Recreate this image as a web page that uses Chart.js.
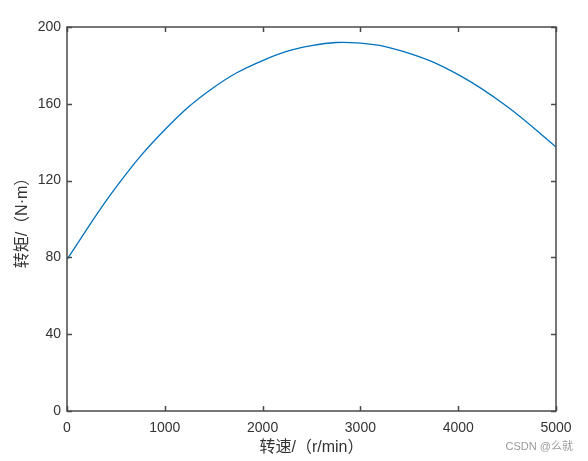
<!DOCTYPE html>
<html>
<head>
<meta charset="utf-8">
<script src="https://cdn.jsdelivr.net/npm/chart.js@4"></script>
<style>
  body { margin: 0; background: #fff; }
  #wrap { position: relative; width: 588px; height: 461px; }
  #mark { position: absolute; right: 15px; top: 437px; font: 11px "Liberation Sans", "Noto Sans CJK SC", sans-serif; color: #9a9a9a; }
</style>
</head>
<body>
<div id="wrap">
  <canvas id="torqueChart"></canvas>
  <div id="mark">CSDN @么就</div>
</div>
<script>
// speed (r/min) and torque (N·m)
const speed = [0, 500, 1000, 1500, 2000, 2500, 3000, 3500, 4000, 4500, 5000];
const torque = [79, 116.5, 146.5, 168.5, 182.5, 190.3, 191.6, 186.3, 175.2, 158.6, 137.5];
const xTicks = [0, 1000, 2000, 3000, 4000, 5000];
const yTicks = [0, 40, 80, 120, 160, 200];

const axisColor = '#4a4a4a';
const tickFont = { family: '"Liberation Sans", Arial, sans-serif', size: 14 };
const titleFont = { family: '"Liberation Sans", "Noto Sans CJK SC", sans-serif', size: 16 };

// MATLAB-like box with inward ticks on all four sides
const boxPlugin = {
    id: 'box',
    afterDraw(chart) {
        const { ctx, chartArea: a, scales: { x, y } } = chart;
        ctx.save();
        ctx.strokeStyle = axisColor;
        ctx.lineWidth = 1.5;
        ctx.strokeRect(a.left, a.top, a.right - a.left, a.bottom - a.top);
        const len = 5;
        ctx.beginPath();
        xTicks.forEach(v => {
            const px = Math.round(x.getPixelForValue(v)) + 0.5;
            ctx.moveTo(px, a.bottom); ctx.lineTo(px, a.bottom - len);
            ctx.moveTo(px, a.top); ctx.lineTo(px, a.top + len);
        });
        yTicks.forEach(v => {
            const py = Math.round(y.getPixelForValue(v)) + 0.5;
            ctx.moveTo(a.left, py); ctx.lineTo(a.left + len, py);
            ctx.moveTo(a.right, py); ctx.lineTo(a.right - len, py);
        });
        ctx.stroke();
        ctx.restore();
    }
};

const ctx = document.getElementById('torqueChart').getContext('2d');
new Chart(ctx, {
    type: 'line',
    data: {
        datasets: [{
            data: speed.map((s, i) => ({ x: s, y: torque[i] })),
            borderColor: '#0072BD',
            borderWidth: 1.3,
            pointRadius: 0,
            tension: 0.4,
            fill: false
        }]
    },
    options: {
        responsive: true,
        maintainAspectRatio: false,
        animation: false,
        layout: { padding: { top: 27, right: 32, left: 0, bottom: 0 } },
        plugins: { legend: { display: false }, tooltip: { enabled: false } },
        scales: {
            x: {
                type: 'linear',
                min: 0, max: 5000,
                afterBuildTicks: s => { s.ticks = xTicks.map(v => ({ value: v })); },
                afterFit: s => { s.height = 50; },
                grid: { display: false, drawTicks: false },
                border: { display: false },
                ticks: { color: '#333', font: tickFont, padding: 9, maxRotation: 0, callback: v => String(v) },
                title: { display: true, text: '转速/（r/min）', color: '#333', font: titleFont, padding: { top: 0, bottom: 4 } }
            },
            y: {
                min: 0, max: 200,
                afterBuildTicks: s => { s.ticks = yTicks.map(v => ({ value: v })); },
                afterFit: s => { s.width = 67; },
                grid: { display: false, drawTicks: false },
                border: { display: false },
                ticks: { color: '#333', font: tickFont, padding: 6, callback: v => String(v) },
                title: { display: true, text: '转矩/（N·m）', color: '#333', font: titleFont, padding: { top: 13, bottom: 0 } }
            }
        }
    },
    plugins: [boxPlugin]
});
</script>
</body>
</html>
